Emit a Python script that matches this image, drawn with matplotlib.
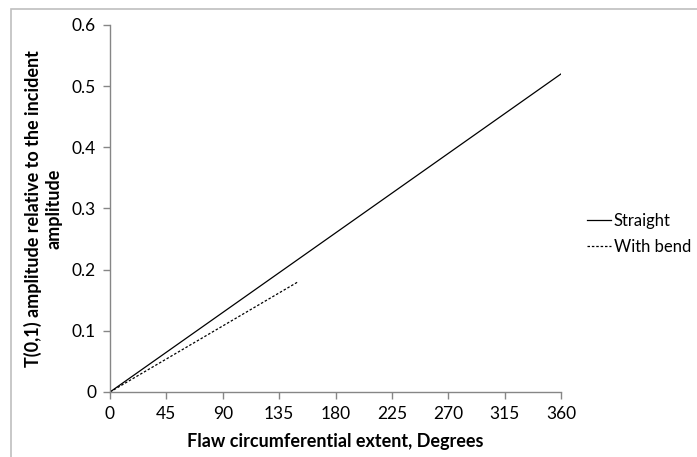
import matplotlib
matplotlib.use("Agg")
import matplotlib.pyplot as plt
from matplotlib.patches import Rectangle

plt.rcParams['font.family'] = ['Lato', 'DejaVu Sans']

# data
straight_x = [0, 360]
straight_y = [0, 0.52]
bend_x = [0, 150]
bend_y = [0, 0.18]

x_ticks = [0, 45, 90, 135, 180, 225, 270, 315, 360]
y_ticks = [0, 0.1, 0.2, 0.3, 0.4, 0.5, 0.6]
y_tick_labels = ['0', '0.1', '0.2', '0.3', '0.4', '0.5', '0.6']

W, H = 697, 457
fig = plt.figure(figsize=(W / 100, H / 100), dpi=100)
ax = fig.add_axes([110 / W, 1 - 392 / H, 451 / W, 367 / H])

# chart area border (runs off the right and bottom edges)
fig.patches.append(Rectangle((11 / W, -0.1), 1.1, 1 - 9 / H + 0.1,
                             transform=fig.transFigure, fill=False,
                             edgecolor='#BFBFBF', linewidth=1.2))

ax.plot(straight_x, straight_y, color='black', linewidth=0.9, label='Straight')
ax.plot(bend_x, bend_y, color='black', linewidth=0.9, linestyle=(0, (2, 1.5)),
        label='With bend')

ax.set_xlim(0, 360)
ax.set_ylim(0, 0.6)
ax.set_xticks(x_ticks)
ax.set_yticks(y_ticks)
ax.set_yticklabels(y_tick_labels)

for side in ['top', 'right']:
    ax.spines[side].set_visible(False)
for side in ['left', 'bottom']:
    ax.spines[side].set_color('#868686')
    ax.spines[side].set_linewidth(1)
ax.tick_params(direction='out', length=5, width=1, color='#868686',
               labelsize=12.5, pad=5)

ax.set_xlabel('Flaw circumferential extent, Degrees', fontsize=13,
              fontweight='bold', labelpad=8)
ax.set_ylabel('T(0,1) amplitude relative to the incident\namplitude',
              fontsize=13, fontweight='bold', labelpad=7,
              multialignment='center')

leg = ax.legend(loc='center left', bbox_to_anchor=(1.0, 0.43), frameon=False,
                fontsize=12, handlelength=1.45, handletextpad=0.15,
                labelspacing=0.6, borderaxespad=0.0, borderpad=0.0)
leg.set_bbox_to_anchor((587 / W, 1 - 234 / H), transform=fig.transFigure)

fig.savefig('out.png', dpi=100)
